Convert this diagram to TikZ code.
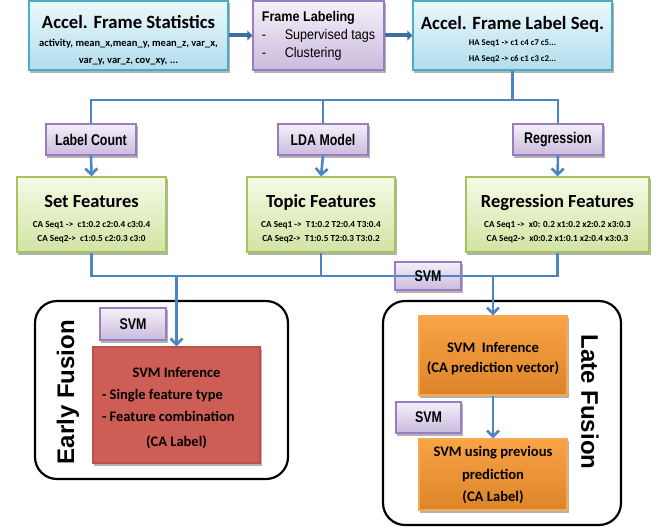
\documentclass[tikz,border=0pt]{standalone}
\usepackage{fontspec}
\setmainfont{Carlito}
\newfontfamily\arialfont{Liberation Sans}
\newfontfamily\narrowfont[FakeStretch=0.8]{Liberation Sans}
\newfontfamily\semiarial[FakeStretch=0.9]{Liberation Sans}
\usetikzlibrary{arrows.meta,calc}

\pgfdeclarelayer{backdrop}
\pgfsetlayers{backdrop,main}

\definecolor{flowblue}{HTML}{4A86C4}
\definecolor{flowdark}{HTML}{3A6EA5}
\definecolor{cyanedge}{HTML}{4BACC6}
\definecolor{cyantop}{HTML}{ECF8FC}
\definecolor{cyanbot}{HTML}{B2DDEE}
\definecolor{lilacedge}{HTML}{9A7CC0}
\definecolor{lilactop}{HTML}{F5F1F9}
\definecolor{lilacbot}{HTML}{CBBBDE}
\definecolor{greenedge}{HTML}{A5C35F}
\definecolor{greentop}{HTML}{F5FAE6}
\definecolor{greenbot}{HTML}{D2E4A4}
\definecolor{orangeedge}{HTML}{F7A950}
\definecolor{orangetop}{HTML}{F8A446}
\definecolor{orangebot}{HTML}{DD8429}
\definecolor{rededge}{HTML}{BA514B}
\definecolor{redfill}{HTML}{CD5D55}

\tikzset{
  panel/.style={draw, line width=1.3pt, inner sep=0pt},
  cyanbox/.style={panel, draw=cyanedge},
  lilacbox/.style={panel, draw=lilacedge},
  greenbox/.style={panel, draw=greenedge},
  orangebox/.style={panel, draw=orangeedge},
  redbox/.style={panel, draw=rededge},
  tagbox/.style={lilacbox, font=\narrowfont\bfseries\fontsize{15.5}{18}\selectfont},
  featfont/.style={font=\bfseries\fontsize{9.2}{14}\selectfont},
  boxshadow/.style={fill=black, fill opacity=0.3, draw=none},
  fusionbox/.style={draw=black, line width=2.2pt, rounded corners=22pt, inner sep=0pt},
  fusionlabel/.style={font=\arialfont\bfseries\fontsize{24}{28}\selectfont},
  flow/.style={draw=flowblue, line width=2.6pt},
  flowarrow/.style={flow, -{Straight Barb[length=6pt,width=12pt]}},
  mainarrow/.style={draw=flowdark, line width=4pt, -{Triangle[length=5pt,width=10pt]}},
}

\begin{document}
\begin{tikzpicture}[x=1pt,y=-1pt]
\useasboundingbox (0,0) rectangle (660,527);

% fusion frames
\node[fusionbox, minimum width=253pt, minimum height=178pt] (early) at (161.5,390) {};
\node[fusionbox, minimum width=238pt, minimum height=224pt] (late) at (502,413) {};
\node[fusionlabel, rotate=90] (earlylbl) at (68,392) {Early Fusion};
\node[fusionlabel, rotate=-90] (latelbl) at (590,402) {Late Fusion};

% top row
\node[cyanbox, minimum width=199pt, minimum height=69pt, font=\bfseries\fontsize{10.5}{17}\selectfont] (stats) at (128.5,35.5)
  {\begin{tabular}{@{}c@{}}
   \rule{0pt}{26pt}{\fontsize{18.7}{22}\selectfont Accel. Frame Statistics}\\[1.5pt]
   activity, mean\_x,mean\_y, mean\_z, var\_x,\\
   var\_y, var\_z, cov\_xy, ...
   \end{tabular}};
\node[lilacbox, minimum width=131pt, minimum height=69pt, font=\semiarial\fontsize{14}{18}\selectfont] (labeling) at (318.5,35.5)
  {\begin{tabular}{@{}l@{}}
   {\bfseries Frame Labeling}\\
   \makebox[23pt][l]{-}Supervised tags\\
   \makebox[23pt][l]{-}Clustering
   \end{tabular}};
\node[cyanbox, minimum width=199pt, minimum height=69pt, font=\bfseries\fontsize{8.8}{16}\selectfont] (seq) at (512.5,35.5)
  {\begin{tabular}{@{}c@{}}
   \rule{0pt}{25pt}{\fontsize{18.7}{22}\selectfont Accel. Frame Label Seq.}\\[0.5pt]
   HA Seq1 -> c1 c4 c7 c5...\\
   HA Seq2 -> c6 c1 c3 c2...
   \end{tabular}};

% feature extraction tags
\node[tagbox, minimum width=90pt, minimum height=31pt] (lcount) at (91,139.5) {Label Count};
\node[tagbox, minimum width=90pt, minimum height=31pt] (lda) at (323,139.5) {LDA Model};
\node[tagbox, minimum width=90pt, minimum height=31pt] (regr) at (558,139.5) {Regression};

% feature boxes
\node[greenbox, featfont, minimum width=149pt, minimum height=75pt] (setf) at (91.5,214.5)
  {\begin{tabular}{@{}c@{}}
   \rule{0pt}{23.7pt}{\fontsize{18.5}{22}\selectfont Set Features}\\[5.5pt]
   CA Seq1 ->\ \ c1:0.2 c2:0.4 c3:0.4\\
   CA Seq2->\ \ c1:0.5 c2:0.3 c3:0
   \end{tabular}};
\node[greenbox, featfont, minimum width=148pt, minimum height=75pt] (topicf) at (321,214.5)
  {\begin{tabular}{@{}c@{}}
   \rule{0pt}{23.7pt}{\fontsize{18.5}{22}\selectfont Topic Features}\\[5.5pt]
   CA Seq1 ->\ \ T1:0.2 T2:0.4 T3:0.4\\
   CA Seq2->\ \ T1:0.5 T2:0.3 T3:0.2
   \end{tabular}};
\node[greenbox, featfont, minimum width=183pt, minimum height=75pt] (regf) at (557.5,214.5)
  {\begin{tabular}{@{}c@{}}
   \rule{0pt}{23.7pt}{\fontsize{18.5}{22}\selectfont Regression Features}\\[5.5pt]
   CA Seq1 ->\ \ x0: 0.2 x1:0.2 x2:0.2 x3:0.3\\
   CA Seq2->\ \ x0:0.2 x1:0.1 x2:0.4 x3:0.3
   \end{tabular}};

% classifiers
\node[redbox, minimum width=167pt, minimum height=116pt, font=\bfseries\fontsize{14.5}{22}\selectfont] (red) at (176.5,405)
  {\begin{tabular}{@{}c@{}}
   \rule{0pt}{21pt}SVM Inference\\
   \makebox[149pt][l]{- Single feature type}\\
   \makebox[149pt][l]{- Feature combination}\\[3pt]
   (CA Label)
   \end{tabular}};
\node[orangebox, minimum width=148pt, minimum height=79pt, font=\bfseries\fontsize{14.6}{20}\selectfont] (inf) at (493,355.5)
  {\begin{tabular}{@{}c@{}}
   \rule{0pt}{19pt}SVM\ \ Inference\\
   (CA prediction vector)
   \end{tabular}};
\node[orangebox, minimum width=148pt, minimum height=71pt, font=\bfseries\fontsize{14.6}{22.5}\selectfont] (prev) at (493,474.5)
  {\begin{tabular}{@{}c@{}}
   SVM using previous\\
   prediction\\
   (CA Label)
   \end{tabular}};

% bus junctions
\coordinate (busA) at (0,100);
\coordinate (busB) at (0,276);

% top row arrows
\draw[mainarrow] (stats.east) -- (labeling.west);
\draw[mainarrow] (labeling.east) -- (seq.west);

% distribution bus to the feature extractors
\draw[flow] (seq.south) -- (seq.south |- busA);
\draw[flow, line join=miter] (lcount.north) -- (lcount.north |- busA) -- (regr.north |- busA) -- (regr.north);
\draw[flow] (lda.north) -- (lda.north |- busA);
\draw[flowarrow] (lcount.south) -- (setf.north);
\draw[flowarrow] (lda.south) -- (topicf.north);
\draw[flowarrow] (regr.south) -- (regf.north);

% collection bus to the classifiers
\draw[flow, line join=miter] (setf.south) -- (setf.south |- busB) -- (regf.south |- busB) -- (regf.south);
\draw[flow] (topicf.south) -- (topicf.south |- busB);
\draw[flowarrow] (red.north |- busB) -- (red.north);
\draw[flowarrow] (inf.north |- busB) -- (inf.north);
\draw[flowarrow] (inf.south) -- (prev.north);

% SVM tags
\node[tagbox, minimum width=66pt, minimum height=28pt] (svm0) at (428,276) {SVM};
\node[tagbox, minimum width=66pt, minimum height=32pt] (svm1) at (133,324) {SVM};
\node[tagbox, minimum width=65pt, minimum height=31pt] (svm2) at (428.5,417.5) {SVM};

% drop shadows and vertical gradient fills behind the boxes
\begin{pgfonlayer}{backdrop}
  \foreach \b/\ct/\cb in {stats/cyantop/cyanbot, labeling/lilactop/lilacbot, seq/cyantop/cyanbot,
      lcount/lilactop/lilacbot, lda/lilactop/lilacbot, regr/lilactop/lilacbot,
      setf/greentop/greenbot, topicf/greentop/greenbot, regf/greentop/greenbot,
      red/redfill/redfill, inf/orangetop/orangebot, prev/orangetop/orangebot,
      svm0/lilactop/lilacbot, svm1/lilactop/lilacbot, svm2/lilactop/lilacbot}{
    \fill[boxshadow] ($(\b.north west)+(1.8,2.2)$) rectangle ($(\b.south east)+(1.8,2.2)$);
    \foreach \k in {0,...,23}{
      \pgfmathsetmacro\mixp{100-\k*100/23}
      \fill[\ct!\mixp!\cb] ($(\b.north west)!{\k/24}!(\b.south west)$) rectangle ($(\b.north east)!{(\k+1.15)/24}!(\b.south east)$);
    }
  }
\end{pgfonlayer}
\end{tikzpicture}
\end{document}
